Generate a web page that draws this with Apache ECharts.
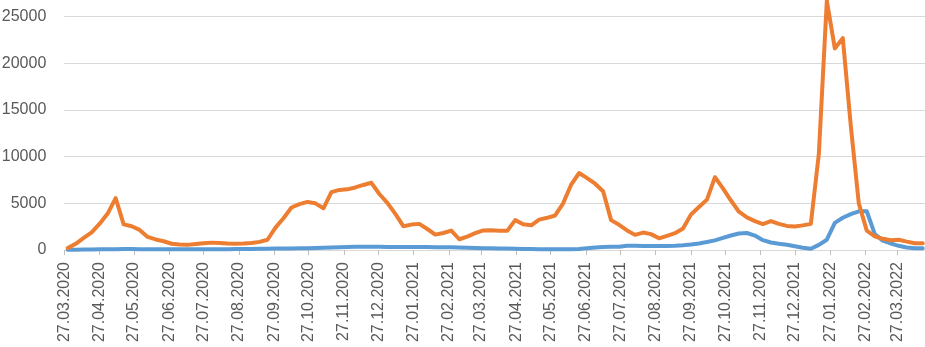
<!DOCTYPE html>
<html><head><meta charset="utf-8">
<script src="https://cdn.jsdelivr.net/npm/echarts@6/dist/echarts.min.js"></script>
<style>html,body{margin:0;padding:0;background:#fff}#c{width:925px;height:347px}</style>
</head><body><div id="c"></div>
<script>
const weekDates = [
'30.03.2020','06.04.2020','13.04.2020','20.04.2020','27.04.2020','04.05.2020','11.05.2020','18.05.2020','25.05.2020','01.06.2020',
'08.06.2020','15.06.2020','22.06.2020','29.06.2020','06.07.2020','13.07.2020','20.07.2020','27.07.2020','03.08.2020','10.08.2020',
'17.08.2020','24.08.2020','31.08.2020','07.09.2020','14.09.2020','21.09.2020','28.09.2020','05.10.2020','12.10.2020','19.10.2020',
'26.10.2020','02.11.2020','09.11.2020','16.11.2020','23.11.2020','30.11.2020','07.12.2020','14.12.2020','21.12.2020','28.12.2020',
'04.01.2021','11.01.2021','18.01.2021','25.01.2021','01.02.2021','08.02.2021','15.02.2021','22.02.2021','01.03.2021','08.03.2021',
'15.03.2021','22.03.2021','29.03.2021','05.04.2021','12.04.2021','19.04.2021','26.04.2021','03.05.2021','10.05.2021','17.05.2021',
'24.05.2021','31.05.2021','07.06.2021','14.06.2021','21.06.2021','28.06.2021','05.07.2021','12.07.2021','19.07.2021','26.07.2021',
'02.08.2021','09.08.2021','16.08.2021','23.08.2021','30.08.2021','06.09.2021','13.09.2021','20.09.2021','27.09.2021','04.10.2021',
'11.10.2021','18.10.2021','25.10.2021','01.11.2021','08.11.2021','15.11.2021','22.11.2021','29.11.2021','06.12.2021','13.12.2021',
'20.12.2021','27.12.2021','03.01.2022','10.01.2022','17.01.2022','24.01.2022','31.01.2022','07.02.2022','14.02.2022','21.02.2022',
'28.02.2022','07.03.2022','14.03.2022','21.03.2022','28.03.2022','04.04.2022','11.04.2022','18.04.2022'
];
const tickLabels = [
'27.03.2020','27.04.2020','27.05.2020','27.06.2020','27.07.2020','27.08.2020','27.09.2020','27.10.2020','27.11.2020','27.12.2020',
'27.01.2021','27.02.2021','27.03.2021','27.04.2021','27.05.2021','27.06.2021','27.07.2021','27.08.2021','27.09.2021','27.10.2021',
'27.11.2021','27.12.2021','27.01.2022','27.02.2022','27.03.2022'
];
const axisStart = '27.03.2020';
const axisEnd = '20.04.2022';
const seriesBlue = [
30,40,50,60,70,80,90,100,100,90,
80,80,70,70,70,70,70,70,80,80,
90,100,110,120,130,140,150,160,170,180,
200,220,240,260,290,320,340,350,350,340,
330,320,310,310,310,310,300,300,290,270,
240,220,200,180,160,150,140,120,100,90,
80,80,80,80,100,200,270,320,340,360,
450,450,440,430,430,430,460,520,600,700,
850,1030,1300,1550,1770,1820,1550,1050,800,660,
560,400,250,130,550,1100,2900,3450,3850,4150,
4150,1700,1000,700,450,260,200,180
];
const seriesOrange = [
200,660,1300,1900,2820,3900,5550,2750,2540,2150,
1400,1130,940,670,600,550,640,720,790,750,
700,670,700,750,870,1100,2400,3400,4550,4920,
5150,5000,4470,6200,6440,6500,6700,6970,7200,6000,
5050,3870,2550,2720,2800,2250,1650,1820,2080,1150,
1440,1800,2100,2110,2070,2050,3200,2750,2650,3250,
3450,3700,5000,7000,8250,7700,7100,6300,3200,2700,
2100,1620,1870,1700,1250,1520,1800,2300,3800,4600,
5400,7800,6600,5300,4100,3500,3100,2780,3100,2800,
2580,2520,2640,2800,10300,26700,21600,22700,13300,5000,
2070,1470,1200,1050,1100,900,720,720
];

function parseD(s){const p=s.split('.').map(Number);return Date.UTC(p[2],p[1]-1,p[0]);}
function fmt(v){const d=new Date(v);const p=n=>String(n).padStart(2,'0');return p(d.getUTCDate())+'.'+p(d.getUTCMonth()+1)+'.'+d.getUTCFullYear();}
const tickVals = tickLabels.map(parseD);
const blueData = weekDates.map((d,i)=>[parseD(d), seriesBlue[i]]);
const orangeData = weekDates.map((d,i)=>[parseD(d), seriesOrange[i]]);

const chart = echarts.init(document.getElementById('c'), null, {renderer:'canvas'});
chart.setOption({
  animation:false,
  backgroundColor:'#ffffff',
  grid:{left:64.3, right:0, top:-30, bottom:97, containLabel:false, outerBoundsMode:'none'},
  xAxis:{
    type:'value', min:parseD(axisStart), max:parseD(axisEnd),
    axisLine:{show:true, onZero:false, lineStyle:{color:'#D9D9D9', width:1}},
    axisTick:{show:true, customValues:tickVals, length:5, lineStyle:{color:'#BFBFBF'}},
    splitLine:{show:false},
    axisLabel:{customValues:tickVals, rotate:90, margin:12, color:'#595959', fontSize:16,
      fontFamily:'Liberation Sans', formatter:(v)=>fmt(v)}
  },
  yAxis:{
    type:'value', min:0, max:30000, interval:5000,
    axisLine:{show:false}, axisTick:{show:false},
    splitLine:{show:true, lineStyle:{color:'#D9D9D9', width:1}},
    axisLabel:{color:'#595959', fontSize:16, fontFamily:'Liberation Sans', margin:18,
      formatter:(v)=>String(v)}
  },
  series:[
    {type:'line', data:blueData, showSymbol:false, symbol:'none', clip:true,
     lineStyle:{color:'#5B9BD5', width:4, cap:'round', join:'round'}},
    {type:'line', data:orangeData, showSymbol:false, symbol:'none', clip:true,
     lineStyle:{color:'#ED7D31', width:4, cap:'round', join:'round'}}
  ]
});
</script>
</body></html>
